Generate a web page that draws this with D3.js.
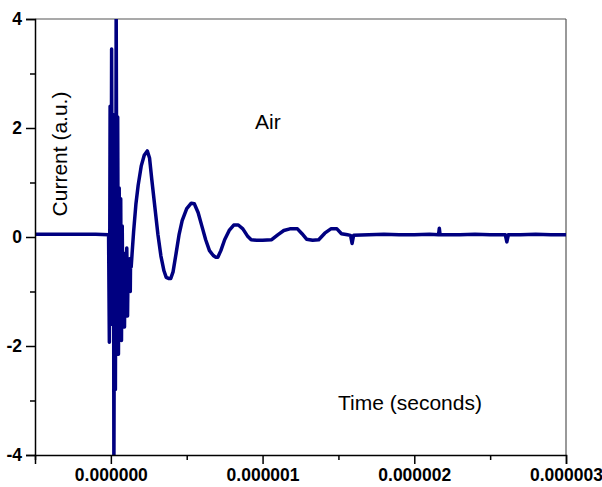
<!DOCTYPE html>
<html>
<head>
<meta charset="utf-8">
<script src="https://cdn.jsdelivr.net/npm/d3@7"></script>
<style>
  body { margin: 0; background: #fff; }
  text { font-family: Arial, "Liberation Sans", sans-serif; }
</style>
</head>
<body>
<div class="graph"></div>
<script>
// time in microseconds, current in a.u.
const timeUs = [
  -0.50, -0.40, -0.30, -0.20, -0.10, -0.015,
  -0.010, -0.007, -0.005, -0.002, 0.000, 0.003, 0.005, 0.008, 0.010, 0.013,
  0.015, 0.018, 0.020, 0.023, 0.025, 0.028, 0.030, 0.033, 0.035, 0.038,
  0.040, 0.043, 0.045, 0.048, 0.050, 0.053, 0.055, 0.058, 0.060, 0.063,
  0.065, 0.068, 0.070, 0.073, 0.075, 0.078, 0.080, 0.083, 0.085, 0.088,
  0.090, 0.093, 0.095, 0.098, 0.100, 0.103, 0.105, 0.108, 0.110, 0.113,
  0.115, 0.118, 0.120, 0.123, 0.125, 0.128, 0.130, 0.134,
  0.140, 0.150, 0.165, 0.180, 0.200, 0.220, 0.240, 0.255, 0.270, 0.290,
  0.310, 0.330, 0.350, 0.365, 0.380, 0.395, 0.410, 0.430, 0.450, 0.470,
  0.500, 0.530, 0.550, 0.575, 0.600, 0.625, 0.650, 0.675, 0.690, 0.705,
  0.725, 0.750, 0.780, 0.810, 0.840, 0.870, 0.900, 0.925, 0.960, 1.000,
  1.060, 1.100, 1.140, 1.180, 1.230, 1.260, 1.290, 1.330, 1.370, 1.410,
  1.450, 1.490, 1.520, 1.560, 1.580, 1.590, 1.600, 1.700, 1.800, 1.900,
  2.000, 2.100, 2.160, 2.165, 2.170, 2.300, 2.400, 2.500, 2.600, 2.610,
  2.620, 2.700, 2.800, 2.900, 3.000
];
const current = [
  0.05, 0.05, 0.05, 0.05, 0.05, 0.04,
  -1.93, 0.20, 2.40, -0.50, -1.60, 1.00, 3.45, 0.50, -1.20, 0.80,
  2.25, 0.00, -4.30, -1.00, 1.00, -0.50, -2.80, 0.60, 4.30, 1.20,
  -1.50, 0.30, 2.20, -0.40, -2.15, -0.30, 0.90, -0.60, -1.00, 0.10,
  0.70, -1.20, -1.90, -0.40, 0.20, -0.90, -1.20, -0.40, -0.30, -1.40,
  -1.65, -0.60, -0.50, -1.10, -0.65, -0.35, -0.20, -0.90, -1.45, -0.70,
  -0.40, -0.80, -0.60, -0.40, -0.80, -1.00, -0.40, -0.55,
  -0.30, 0.10, 0.60, 0.95, 1.30, 1.50, 1.58, 1.45, 1.05, 0.55,
  0.05, -0.35, -0.62, -0.74, -0.76, -0.76, -0.64, -0.30, 0.05, 0.30,
  0.52, 0.62, 0.61, 0.45, 0.20, -0.05, -0.25, -0.34, -0.37, -0.37,
  -0.25, -0.05, 0.12, 0.22, 0.22, 0.15, 0.02, -0.05, -0.06, -0.06,
  -0.05, 0.04, 0.12, 0.15, 0.15, 0.06, -0.04, -0.06, -0.05, 0.07,
  0.15, 0.15, 0.06, 0.04, 0.03, -0.12, 0.03, 0.04, 0.05, 0.04,
  0.04, 0.05, 0.04, 0.16, 0.04, 0.04, 0.05, 0.04, 0.04, -0.09,
  0.04, 0.04, 0.05, 0.04, 0.04
];
const xTicks = [0, 1, 2, 3];
const xMinorTicks = [-0.5, 0.5, 1.5, 2.5];
const yTicks = [-4, -2, 0, 2, 4];
const yMinorTicks = [-3, -1, 1, 3];

const data = timeUs.map((t, i) => ({ t: t, v: current[i] }));

const W = 602, H = 487;
const padL = 35, padR = 566, padT = 19, padB = 455;

const svg = d3.select(".graph").append("svg").attr("width", W).attr("height", H);

const x = d3.scaleLinear().domain([-0.5, 3]).range([padL, padR]);
const y = d3.scaleLinear().domain([-4, 4]).range([padB, padT]);

svg.append("clipPath").attr("id", "plot")
  .append("rect").attr("x", padL).attr("y", padT).attr("width", padR - padL).attr("height", padB - padT);

// frame top + right
svg.append("line").attr("x1", padL).attr("x2", padR).attr("y1", padT).attr("y2", padT)
  .attr("stroke", "#555").attr("stroke-width", 1.2);
svg.append("line").attr("x1", padR).attr("x2", padR).attr("y1", padT).attr("y2", padB)
  .attr("stroke", "#555").attr("stroke-width", 1.2);

const line = d3.line().x(d => x(d.t)).y(d => y(d.v));
svg.append("path").datum(data)
  .attr("clip-path", "url(#plot)")
  .attr("d", line)
  .attr("fill", "none")
  .attr("stroke", "#000080")
  .attr("stroke-width", 3.5)
  .attr("stroke-linejoin", "round");

// x axis
const gx = svg.append("g").attr("transform", "translate(0," + padB + ")");
gx.call(d3.axisBottom(x).tickValues(xTicks).tickSize(9).tickPadding(5)
  .tickFormat(d => (d * 1e-6).toFixed(6)));
gx.append("g").call(d3.axisBottom(x).tickValues(xMinorTicks).tickSize(5).tickFormat(""))
  .select(".domain").remove();

// y axis
const gy = svg.append("g").attr("transform", "translate(" + padL + ",0)");
gy.call(d3.axisLeft(y).tickValues(yTicks).tickSize(9).tickPadding(4).tickFormat(d => String(d)));
gy.append("g").call(d3.axisLeft(y).tickValues(yMinorTicks).tickSize(5).tickFormat(""))
  .select(".domain").remove();

svg.selectAll(".domain").attr("stroke", "#000").attr("stroke-width", 1.5);
svg.selectAll(".tick line").attr("stroke", "#000").attr("stroke-width", 1.5);
svg.selectAll(".tick text").attr("font-size", 17.5).attr("font-weight", "bold")
  .attr("font-family", "Arial, 'Liberation Sans', sans-serif").attr("fill", "#000");

// labels
svg.append("text").attr("transform", "translate(67,154) rotate(-90)")
  .attr("text-anchor", "middle").attr("font-size", 21).text("Current (a.u.)");
svg.append("text").attr("x", 255).attr("y", 129).attr("font-size", 21).text("Air");
svg.append("text").attr("x", 338).attr("y", 410).attr("font-size", 21).text("Time (seconds)");
</script>
</body>
</html>
